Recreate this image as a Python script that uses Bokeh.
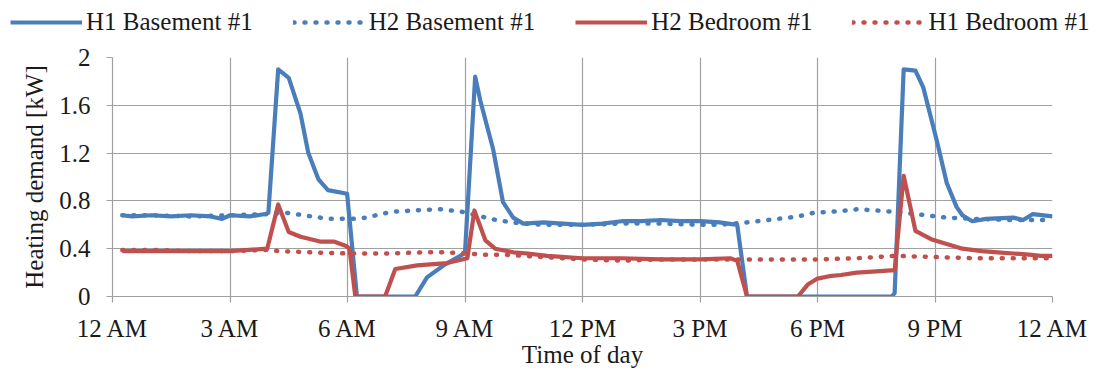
from bokeh.plotting import figure
from bokeh.layouts import column
from bokeh.models import Legend, LegendItem, FixedTicker, CustomJSTickFormatter, Range1d
from bokeh.embed import file_html
from bokeh.resources import INLINE

# ---- data (hours after midnight, heating demand in kW) ----
h1_base_t = [0.25, 0.5, 1, 1.5, 2, 2.5, 2.8, 3, 3.5, 3.9, 3.98, 4.23, 4.5, 4.8, 5.0, 5.26, 5.5, 5.99, 6.24,
             7.73, 8.03, 8.45, 8.93, 9.0, 9.26, 9.39, 9.72, 9.97, 10.23, 10.49, 11, 11.5, 12, 12.5, 13, 13.5,
             14, 14.5, 15, 15.5, 15.95, 16.2, 19.9, 19.97, 20.2, 20.5, 20.7, 21.05, 21.3, 21.55, 21.7, 21.95,
             22.3, 23.0, 23.25, 23.5, 24]
h1_base_v = [0.68, 0.67, 0.68, 0.67, 0.68, 0.67, 0.65, 0.68, 0.67, 0.69, 0.70, 1.90, 1.83, 1.53, 1.20, 0.98, 0.89, 0.86, 0.0,
             0.0, 0.16, 0.26, 0.35, 0.37, 1.84, 1.64, 1.23, 0.79, 0.66, 0.61, 0.62, 0.61, 0.60, 0.61, 0.63, 0.63,
             0.64, 0.63, 0.63, 0.62, 0.60, 0.0, 0.0, 0.03, 1.90, 1.89, 1.75, 1.30, 0.95, 0.75, 0.68, 0.63,
             0.65, 0.66, 0.64, 0.69, 0.67]

h2_base_t = [0.25, 1, 2, 3, 4, 4.45, 5.1, 5.5, 6.15, 6.5, 6.84, 7.2, 7.7, 8.37, 8.9, 9.3, 9.64, 10.2, 10.5, 11,
             12, 13, 14, 15, 15.5, 16.2, 17.0, 17.5, 17.9, 18.4, 18.75, 19.0, 19.5, 19.9, 20.5, 21.3, 21.95,
             23, 24]
h2_base_v = [0.68, 0.68, 0.67, 0.68, 0.69, 0.70, 0.67, 0.65, 0.65, 0.66, 0.69, 0.71, 0.72, 0.73, 0.71, 0.68, 0.65, 0.62, 0.61, 0.60,
             0.60, 0.61, 0.61, 0.60, 0.60, 0.62, 0.65, 0.67, 0.70, 0.71, 0.72, 0.73, 0.72, 0.71, 0.69, 0.66, 0.65,
             0.64, 0.64]

h2_bed_t = [0.25, 1, 2, 3, 3.95, 4.23, 4.5, 4.8, 5.3, 5.65, 5.98, 6.05, 6.2, 6.96, 7.22, 7.78, 8.54, 8.93, 9.06,
            9.24, 9.52, 9.77, 10.23, 10.6, 11.1, 12, 13, 14, 15, 15.77, 15.95, 16.2, 17.5, 17.75, 18.0, 18.3,
            18.6, 19.0, 19.5, 19.97, 20.2, 20.5, 20.9, 21.3, 21.7, 22.2, 22.6, 23.0, 23.4, 23.7, 24]
h2_bed_v = [0.38, 0.38, 0.38, 0.38, 0.40, 0.77, 0.54, 0.50, 0.46, 0.46, 0.42, 0.40, 0.0, 0.0, 0.23, 0.26, 0.28, 0.31, 0.32,
            0.72, 0.47, 0.40, 0.37, 0.36, 0.34, 0.32, 0.32, 0.31, 0.31, 0.32, 0.30, 0.0, 0.0, 0.10, 0.15, 0.17,
            0.18, 0.20, 0.21, 0.22, 1.01, 0.55, 0.48, 0.44, 0.40, 0.38, 0.37, 0.36, 0.35, 0.34, 0.34]

h1_bed_t = [0.25, 1, 2, 3, 4, 4.25, 5, 6, 7, 8, 8.5, 9, 9.5, 10, 11, 12, 13, 14, 15, 16, 17, 18, 19, 19.5, 20,
            21, 22, 23, 24]
h1_bed_v = [0.39, 0.39, 0.38, 0.38, 0.39, 0.38, 0.37, 0.36, 0.36, 0.37, 0.37, 0.36, 0.35, 0.35, 0.33, 0.31, 0.30,
            0.31, 0.31, 0.31, 0.31, 0.31, 0.32, 0.33, 0.34, 0.33, 0.32, 0.32, 0.32]

series_names = ["H1 Basement #1", "H2 Basement #1", "H2 Bedroom #1", "H1 Bedroom #1"]

x_ticks = [0, 3, 6, 9, 12, 15, 18, 21, 24]
x_tick_labels = ["12 AM", "3 AM", "6 AM", "9 AM", "12 PM", "3 PM", "6 PM", "9 PM", "12 AM"]
y_ticks = [0, 0.4, 0.8, 1.2, 1.6, 2.0]

BLUE = "#4a7ebb"
RED = "#c0504d"
GRID = "#a0a0a0"
FONT = "Liberation Serif"
TXT = "#1a1a1a"

series = [
    (h1_base_t, h1_base_v, BLUE, None),
    (h2_base_t, h2_base_v, BLUE, "1 10"),
    (h2_bed_t, h2_bed_v, RED, None),
    (h1_bed_t, h1_bed_v, RED, "1 10"),
]


def add_line(fig, xs, ys, color, dash):
    if dash:
        return fig.line(xs, ys, line_color=color, line_width=4.5, line_dash=dash, line_cap="round")
    return fig.line(xs, ys, line_color=color, line_width=4.2, line_join="round")


# ---- main chart ----
p = figure(width=1104, height=325, output_backend="svg", toolbar_location=None,
           x_range=Range1d(0, 24), y_range=Range1d(0, 2),
           min_border_left=112, min_border_right=52, min_border_top=12, min_border_bottom=72)
p.outline_line_color = None
p.background_fill_color = "white"
p.frame_align = False

for xs, ys, c, d in series:
    add_line(p, xs, ys, c, d)

p.xaxis.ticker = FixedTicker(ticks=x_ticks)
p.xaxis.major_label_overrides = {t: l for t, l in zip(x_ticks, x_tick_labels)}
p.yaxis.ticker = FixedTicker(ticks=y_ticks)
p.yaxis.formatter = CustomJSTickFormatter(code="return tick.toFixed(1).replace(/\\.0$/, '');")
p.xaxis.axis_label = "Time of day"
p.yaxis.axis_label = "Heating demand [kW]"
for ax in (p.xaxis, p.yaxis):
    ax.axis_line_color = GRID
    ax.axis_line_width = 1.2
    ax.major_tick_line_color = GRID
    ax.major_tick_line_width = 1.2
    ax.major_tick_in = 0
    ax.major_tick_out = 6
    ax.minor_tick_line_color = None
    ax.major_label_text_font = FONT
    ax.major_label_text_font_size = "25px"
    ax.major_label_text_color = TXT
    ax.axis_label_text_font = FONT
    ax.axis_label_text_font_size = "25px"
    ax.axis_label_text_font_style = "normal"
    ax.axis_label_text_color = TXT
p.xaxis.major_label_standoff = 12
p.xaxis.axis_label_standoff = -4
p.yaxis.major_label_standoff = 16
p.yaxis.axis_label_standoff = 8

p.xgrid.ticker = FixedTicker(ticks=x_ticks)
p.ygrid.ticker = FixedTicker(ticks=y_ticks)
for g in (p.xgrid, p.ygrid):
    g.grid_line_color = GRID
    g.grid_line_width = 1.2

# ---- legend strip above the chart (same series, ranges placed off-data so only the legend shows) ----
lg = figure(width=1104, height=45, output_backend="svg", toolbar_location=None,
            x_range=Range1d(100, 101), y_range=Range1d(100, 101),
            min_border_left=0, min_border_right=0, min_border_top=0, min_border_bottom=0)
lg.axis.visible = False
lg.grid.visible = False
lg.outline_line_color = None
lg.frame_align = False
leg_renderers = [add_line(lg, xs, ys, c, d) for xs, ys, c, d in series]

legend = Legend(items=[LegendItem(label=n, renderers=[r]) for n, r in zip(series_names, leg_renderers)],
                location=(10, 9), orientation="horizontal", padding=0, margin=0,
                spacing=40, glyph_width=72, glyph_height=20, label_standoff=4,
                label_text_font=FONT, label_text_font_size="25px", label_text_color=TXT,
                border_line_color=None, background_fill_alpha=0)
lg.add_layout(legend)

layout = column(lg, p, spacing=0)
open("out.html", "w").write(file_html(layout, INLINE))
